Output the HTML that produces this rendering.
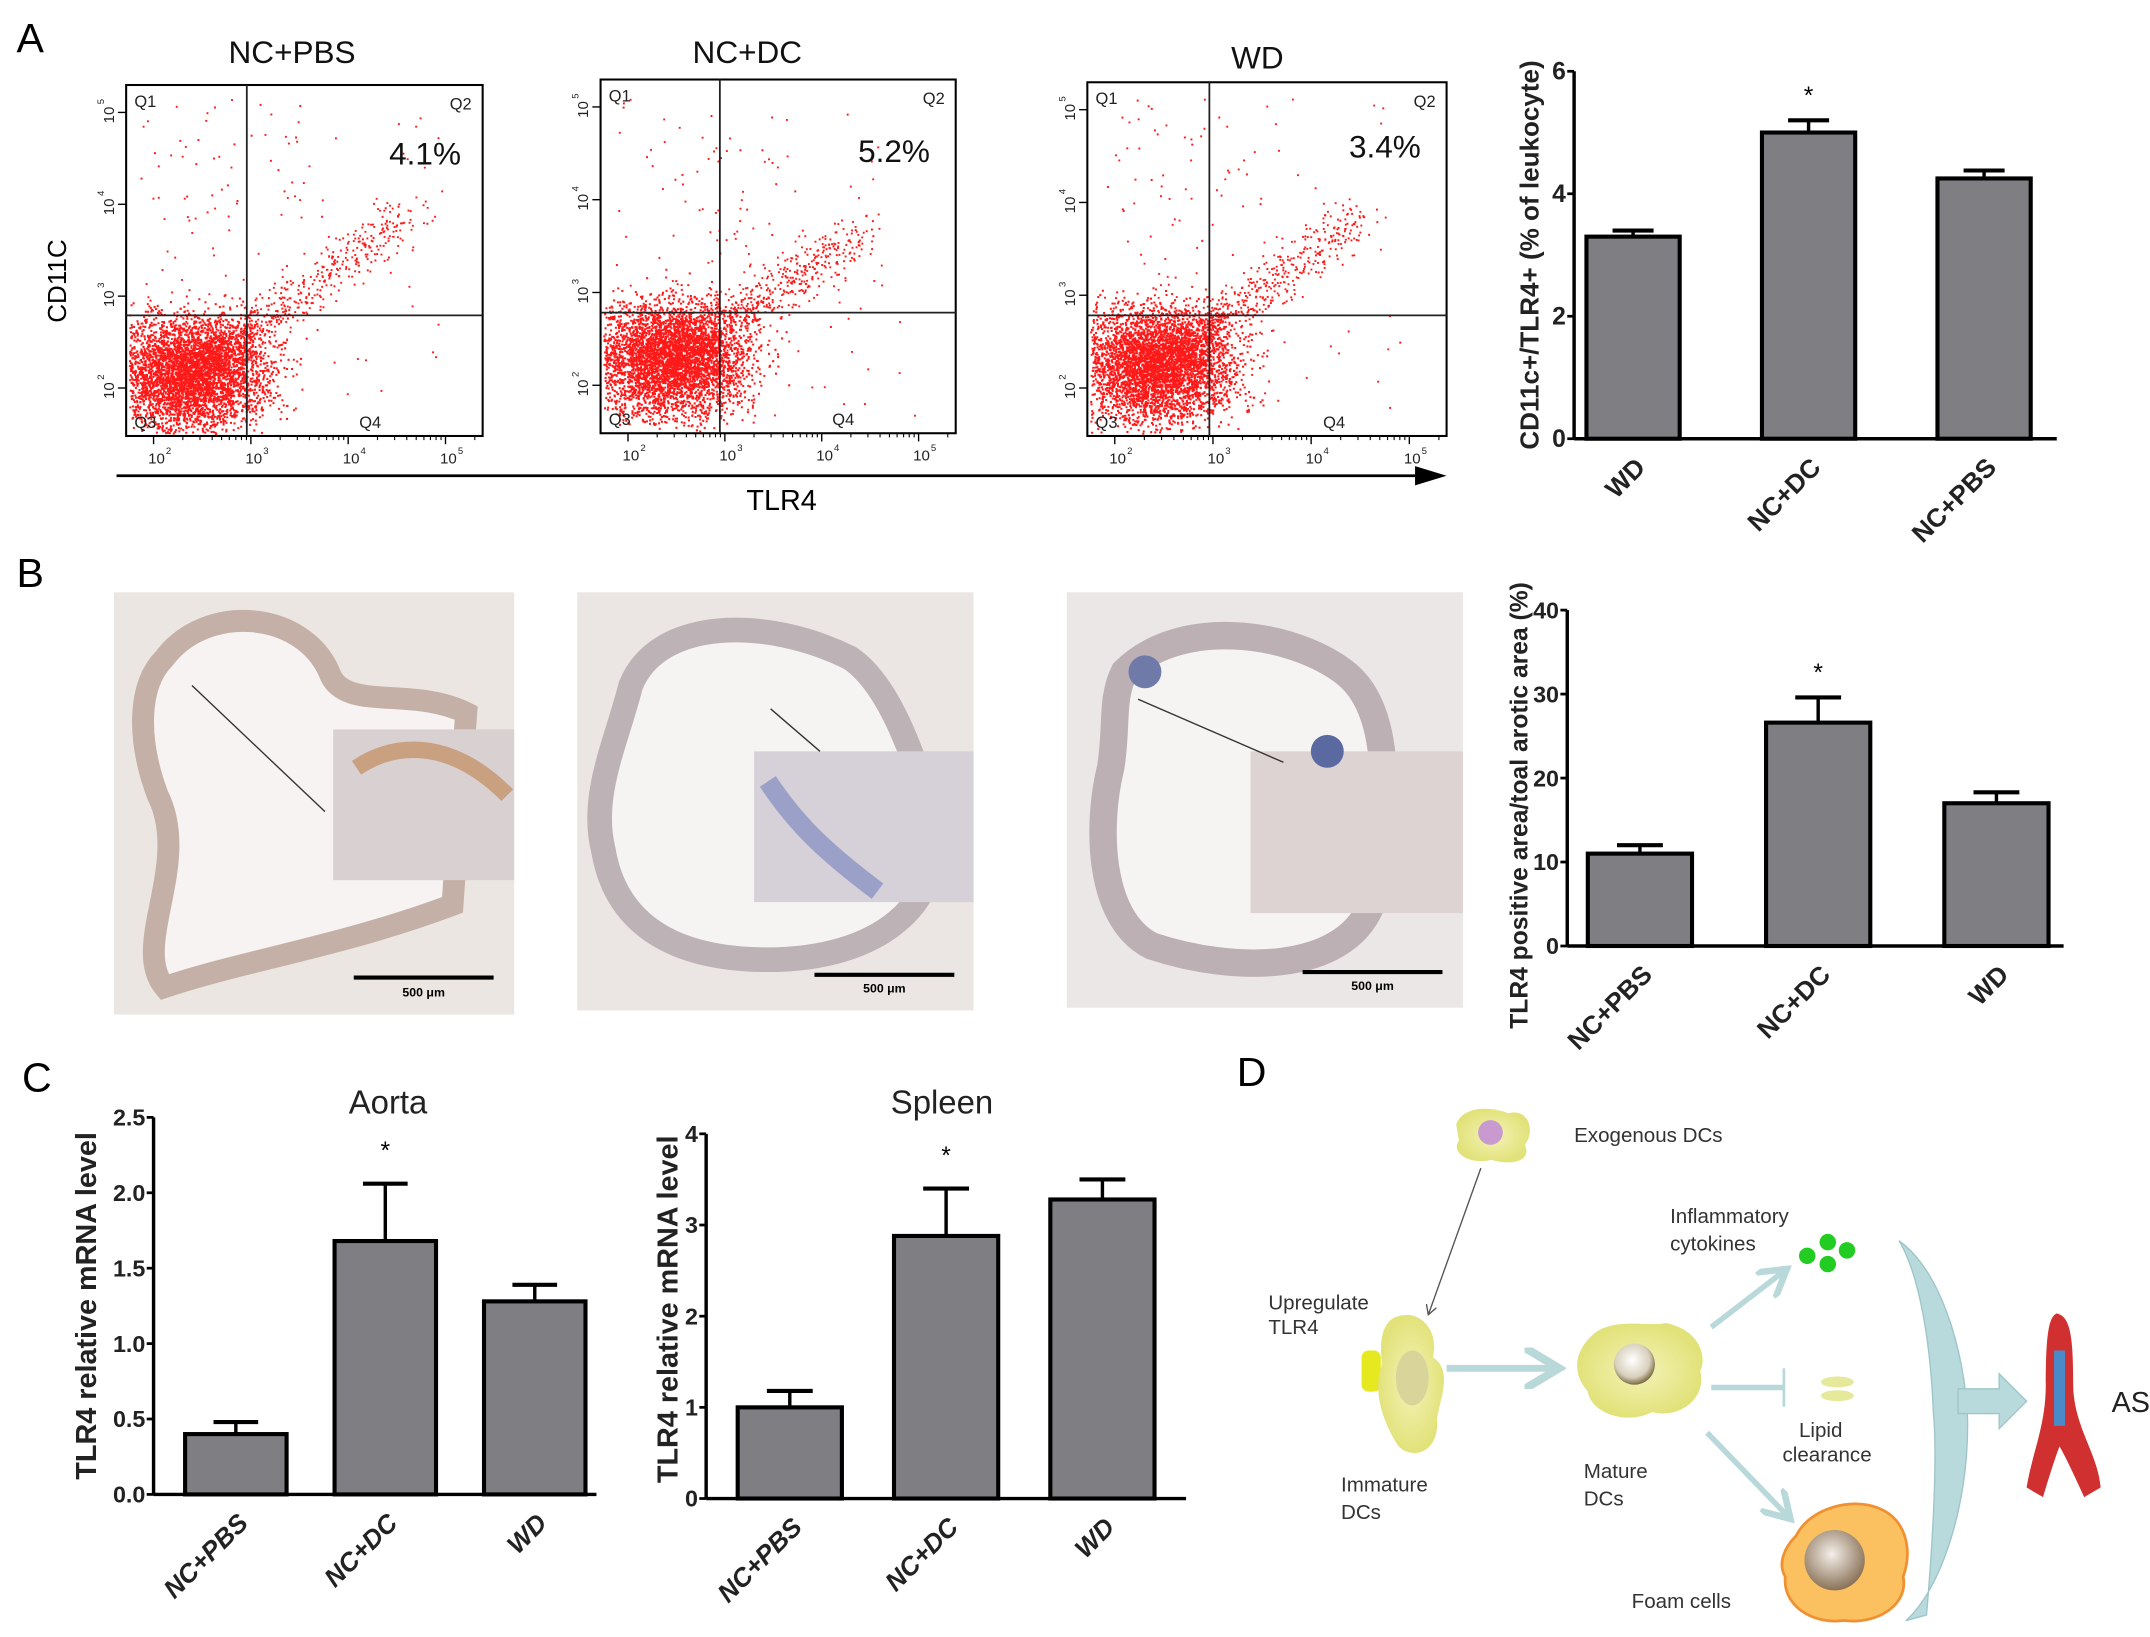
<!DOCTYPE html>
<html><head><meta charset="utf-8">
<style>
html,body{margin:0;padding:0;background:#fff;}
svg{display:block;font-family:"Liberation Sans",Arial,sans-serif;}
</style></head>
<body>
<svg id="fig" width="2150" height="1637" viewBox="0 0 1568 1194" preserveAspectRatio="none" xmlns="http://www.w3.org/2000/svg">
<defs>
<radialGradient id="cellY" cx="50%" cy="50%" r="50%"><stop offset="0" stop-color="#f4f3b8"/><stop offset="1" stop-color="#e2e27a"/></radialGradient>
<radialGradient id="nuc" cx="45%" cy="40%" r="60%"><stop offset="0" stop-color="#fff"/><stop offset="0.7" stop-color="#d8d0bc"/><stop offset="1" stop-color="#7a6a40"/></radialGradient>
<radialGradient id="nuc2" cx="45%" cy="40%" r="60%"><stop offset="0" stop-color="#f5f0ea"/><stop offset="1" stop-color="#8a7258"/></radialGradient>
<marker id="ah" markerWidth="8" markerHeight="8" refX="6" refY="4" orient="auto"><path d="M0,0 L7,4 L0,8" fill="none" stroke="#555" stroke-width="1"/></marker>
<marker id="ahb" markerWidth="6" markerHeight="6" refX="4" refY="3" orient="auto"><path d="M0,0 L5,3 L0,6" fill="none" stroke="#b8d8da" stroke-width="1.2"/></marker>
</defs>

<text x="12" y="38" font-size="30">A</text>
<text x="12" y="428" font-size="30">B</text>
<text x="16" y="796" font-size="30">C</text>
<text x="902" y="792" font-size="30">D</text>

<g id="flow"></g>
<text transform="translate(48,205) rotate(-90)" text-anchor="middle" font-size="19">CD11C</text>
<line x1="85" y1="347" x2="1040" y2="347" stroke="#000" stroke-width="2"/>
<path d="M1032,340 L1055,347 L1032,354 Z" fill="#000"/>
<text x="570" y="372" text-anchor="middle" font-size="21">TLR4</text>

<g>
<rect x="83" y="432" width="292" height="308" fill="#ece6e2"/>
<path d="M120,480 C150,440 220,445 240,490 C250,520 300,500 340,520 L330,660 C250,690 180,700 120,720 C95,690 140,630 115,580 C100,540 100,500 120,480 Z" fill="#f6f3f2" stroke="#c4b0a6" stroke-width="16"/>
<rect x="243" y="532" width="132" height="110" fill="#d9d0d2"/>
<path d="M260,560 C290,540 330,540 370,580" stroke="#c9a080" stroke-width="12" fill="none"/>
<line x1="140" y1="500" x2="237" y2="592" stroke="#333" stroke-width="1"/>
<line x1="258" y1="713" x2="360" y2="713" stroke="#000" stroke-width="3"/>
<text x="309" y="727" font-size="9" font-weight="bold" text-anchor="middle">500 μm</text>
</g>
<g>
<rect x="421" y="432" width="289" height="305" fill="#ebe6e4"/>
<path d="M460,500 C480,450 560,450 620,480 C650,500 670,560 680,600 C690,660 640,700 560,700 C500,700 450,680 440,620 C430,580 450,540 460,500 Z" fill="#f6f4f3" stroke="#bdb2b6" stroke-width="18"/>
<rect x="550" y="548" width="160" height="110" fill="#d6d0d8"/>
<path d="M560,570 C580,600 600,620 640,650" stroke="#9aa0c8" stroke-width="14" fill="none"/>
<line x1="562" y1="517" x2="598" y2="548" stroke="#333" stroke-width="1"/>
<line x1="594" y1="711" x2="696" y2="711" stroke="#000" stroke-width="3"/>
<text x="645" y="724" font-size="9" font-weight="bold" text-anchor="middle">500 μm</text>
</g>
<g>
<rect x="778" y="432" width="289" height="303" fill="#ebe7e6"/>
<path d="M820,490 C860,450 940,460 980,490 C1020,520 1010,600 1000,660 C980,710 900,710 840,690 C800,670 800,600 810,560 C815,530 810,510 820,490 Z" fill="#f6f4f3" stroke="#bcb0b4" stroke-width="20"/>
<rect x="912" y="548" width="155" height="118" fill="#ddd3d2"/>
<circle cx="835" cy="490" r="12" fill="#6f7aa8"/><circle cx="968" cy="548" r="12" fill="#5a6aa0"/>
<line x1="830" y1="510" x2="936" y2="556" stroke="#333" stroke-width="1"/>
<line x1="950" y1="709" x2="1052" y2="709" stroke="#000" stroke-width="3"/>
<text x="1001" y="722" font-size="9" font-weight="bold" text-anchor="middle">500 μm</text>
</g>

<g id="bars"></g>

<g font-size="15" fill="#333">
<g>
<path d="M1062,820 C1068,805 1090,808 1100,812 C1115,808 1120,825 1112,835 C1118,848 1100,850 1088,846 C1070,850 1058,840 1064,832 Z" fill="url(#cellY)"/>
<circle cx="1087" cy="826" r="9" fill="#c89ad0"/>
</g>
<text x="1148" y="833">Exogenous DCs</text>
<line x1="1080" y1="852" x2="1042" y2="958" stroke="#555" stroke-width="1" marker-end="url(#ah)"/>
<text x="925" y="955">Upregulate</text><text x="925" y="973">TLR4</text>
<g>
<rect x="993" y="985" width="14" height="30" rx="5" fill="#e6e820"/>
<path d="M1020,960 C1035,955 1050,970 1045,990 C1060,1000 1050,1020 1048,1035 C1050,1060 1030,1065 1020,1055 C1010,1040 1000,1015 1008,995 C1005,975 1010,962 1020,960 Z" fill="url(#cellY)"/>
<ellipse cx="1030" cy="1005" rx="12" ry="20" fill="#d8d49a"/>
</g>
<text x="978" y="1088">Immature</text><text x="978" y="1108">DCs</text>
<line x1="1055" y1="998" x2="1132" y2="998" stroke="#b8d8da" stroke-width="5" marker-end="url(#ahb)"/>
<g>
<path d="M1160,975 C1175,960 1200,968 1215,965 C1240,970 1245,990 1240,1000 C1245,1020 1225,1035 1205,1030 C1185,1040 1160,1030 1158,1015 C1145,1000 1150,985 1160,975 Z" fill="url(#cellY)"/>
<circle cx="1192" cy="995" r="15" fill="url(#nuc)"/>
</g>
<text x="1155" y="1078">Mature</text><text x="1155" y="1098">DCs</text>
<line x1="1248" y1="968" x2="1300" y2="928" stroke="#b8d8da" stroke-width="4" marker-end="url(#ahb)"/>
<line x1="1248" y1="1012" x2="1300" y2="1012" stroke="#b8d8da" stroke-width="4"/>
<line x1="1301" y1="998" x2="1301" y2="1026" stroke="#b8d8da" stroke-width="2"/>
<line x1="1245" y1="1045" x2="1303" y2="1105" stroke="#b8d8da" stroke-width="4" marker-end="url(#ahb)"/>
<text x="1218" y="892">Inflammatory</text><text x="1218" y="912">cytokines</text>
<g fill="#22cc22">
<circle cx="1318" cy="916" r="6"/><circle cx="1333" cy="906" r="6"/><circle cx="1347" cy="912" r="6"/><circle cx="1333" cy="922" r="6"/>
</g>
<g fill="#e6e89a"><ellipse cx="1340" cy="1008" rx="12" ry="4"/><ellipse cx="1340" cy="1018" rx="12" ry="4"/></g>
<text x="1312" y="1048">Lipid</text><text x="1300" y="1066">clearance</text>
<g>
<path d="M1310,1120 C1320,1100 1350,1092 1370,1100 C1390,1108 1395,1130 1388,1150 C1392,1170 1370,1185 1345,1182 C1320,1185 1300,1170 1302,1150 C1296,1140 1302,1128 1310,1120 Z" fill="#fbc060" stroke="#f09030" stroke-width="2"/>
<circle cx="1338" cy="1138" r="22" fill="url(#nuc2)"/>
</g>
<text x="1190" y="1173">Foam cells</text>
<path d="M1385,905 C1420,930 1435,1000 1435,1040 C1435,1100 1415,1160 1390,1182 L1405,1178 C1410,1120 1413,1060 1410,1030 C1408,980 1400,930 1385,905 Z" fill="#b8dadc" stroke="#9ec6c8"/>
<path d="M1428,1013 L1458,1013 L1458,1002 L1478,1022 L1458,1042 L1458,1031 L1428,1031 Z" fill="#b8dadc" stroke="#9ec6c8"/>
<g>
<path d="M1500,958 C1510,960 1512,975 1512,1010 C1512,1040 1530,1060 1532,1085 L1520,1092 C1510,1070 1505,1060 1502,1055 C1500,1060 1495,1075 1490,1092 L1478,1085 C1482,1060 1492,1040 1492,1010 C1492,975 1494,960 1500,958 Z" fill="#d03030"/>
<path d="M1502,985 L1502,1040" stroke="#4a8ac8" stroke-width="8"/>
</g>
<text x="1540" y="1030" font-size="21" fill="#222">AS</text>
</g>
</svg>

<script>
var NS="http://www.w3.org/2000/svg";
var fig=document.getElementById('fig');
function el(tag,attrs,parent){var e=document.createElementNS(NS,tag);for(var k in attrs)e.setAttribute(k,attrs[k]);(parent||fig).appendChild(e);return e;}

var catsA=["WD","NC+DC","NC+PBS"];
var valsA=[3.3,5.0,4.25];
var errA=[0.1,0.2,0.13];
var ticksA=[0,2,4,6];
var starA=[false,true,false];

var catsB=["NC+PBS","NC+DC","WD"];
var valsB=[11,26.6,17];
var errB=[1,3,1.3];
var ticksB=[0,10,20,30,40];
var starB=[false,true,false];

var catsAorta=["NC+PBS","NC+DC","WD"];
var valsAorta=[0.4,1.68,1.28];
var errAorta=[0.08,0.38,0.11];
var ticksAorta=["0.0","0.5","1.0","1.5","2.0","2.5"];
var starAorta=[false,true,false];

var catsSpleen=["NC+PBS","NC+DC","WD"];
var valsSpleen=[1.0,2.88,3.28];
var errSpleen=[0.18,0.52,0.22];
var ticksSpleen=[0,1,2,3,4];
var starSpleen=[false,true,false];

var flowPct=["4.1%","5.2%","3.4%"];
var flowTitles=["NC+PBS","NC+DC","WD"];

function barChart(name,cfg,cats,vals,errs,ticks,stars){
  var g=el('g',{},document.getElementById('bars'));
  
  
  var tmax=parseFloat(ticks[ticks.length-1]);
  function y(v){return cfg.y0-(v/tmax)*(cfg.y0-cfg.y1);}
  function xc(i){return cfg.c0+cfg.step*i;}
  for(var i=0;i<cats.length;i++){
    var bw=cfg.bw, x=xc(i)-bw/2;
    var e=el('line',{x1:xc(i),x2:xc(i),y1:y(vals[i]),y2:y(vals[i]+errs[i]),stroke:'#000','stroke-width':2.5},g);
    
    
    el('line',{x1:xc(i)-bw*0.22,x2:xc(i)+bw*0.22,y1:y(vals[i]+errs[i]),y2:y(vals[i]+errs[i]),stroke:'#000','stroke-width':3},g);
    var r=el('rect',{x:x,y:y(vals[i]),width:bw,height:cfg.y0-y(vals[i]),fill:'#7f7f83',stroke:'#000','stroke-width':3},g);
    
    
    if(stars[i]){var s=el('text',{x:xc(i),y:y(vals[i]+errs[i])-cfg.starGap,'text-anchor':'middle','font-size':18},g);s.textContent='*';
      
      }
    var t=el('text',{transform:'translate('+(xc(i)+10)+','+(cfg.y0+22)+') rotate(-45)','text-anchor':'end','font-size':cfg.fs,'font-weight':'bold','font-style':cfg.italic?'italic':'normal',fill:'#222'},g);
    t.textContent=cats[i];
    
    
  }
  el('line',{x1:cfg.ax,x2:cfg.ax,y1:cfg.y1,y2:cfg.y0,stroke:'#000','stroke-width':2.5},g);
  el('line',{x1:cfg.ax,x2:cfg.x1,y1:cfg.y0,y2:cfg.y0,stroke:'#000','stroke-width':2.5},g);
  for(var j=0;j<ticks.length;j++){
    var yy=y(parseFloat(ticks[j]));
    el('line',{x1:cfg.ax-5,x2:cfg.ax,y1:yy,y2:yy,stroke:'#000','stroke-width':2},g);
    var tl=el('text',{x:cfg.ax-6,y:yy+6,'text-anchor':'end','font-size':cfg.tfs,'font-weight':'bold',fill:'#222'},g);
    tl.textContent=ticks[j];
    
    
  }
  var yl=el('text',{transform:'translate('+cfg.ylx+','+((cfg.y0+cfg.y1)/2+cfg.ylShift)+') rotate(-90)','text-anchor':'middle','font-size':cfg.ylfs,'font-weight':'bold',fill:'#222'},g);
  yl.textContent=cfg.ylabel;
  
  
  if(cfg.title){var tt=el('text',{x:cfg.tx,y:cfg.ty,'text-anchor':'middle','font-size':24,fill:'#222'},g);tt.textContent=cfg.title;
    
    }
}
barChart('chart-cd11c-tlr4',{ax:1148,x1:1500,y0:320,y1:52,c0:1191,step:128,bw:68,fs:19,tfs:18,ylx:1122,ylfs:19,ylShift:0,ylabel:'CD11c+/TLR4+ (% of leukocyte)',starGap:12},catsA,valsA,errA,ticksA,starA);
barChart('chart-tlr4-area',{ax:1143,x1:1505,y0:690,y1:445,c0:1196,step:130,bw:76,fs:19,tfs:17,ylx:1114,ylfs:18,ylShift:20,ylabel:'TLR4 positive area/toal arotic area (%)',starGap:12},catsB,valsB,errB,ticksB,starB);
barChart('chart-aorta',{ax:112,x1:435,y0:1090,y1:815,c0:172,step:109,bw:74,fs:19,tfs:17,ylx:70,ylfs:21,ylShift:0,ylabel:'TLR4 relative mRNA level',starGap:18,italic:true,title:'Aorta',tx:283,ty:812},catsAorta,valsAorta,errAorta,ticksAorta,starAorta);
barChart('chart-spleen',{ax:515,x1:865,y0:1093,y1:827,c0:576,step:114,bw:76,fs:19,tfs:17,ylx:494,ylfs:21,ylShift:-5,ylabel:'TLR4 relative mRNA level',starGap:18,italic:true,title:'Spleen',tx:687,ty:812},catsSpleen,valsSpleen,errSpleen,ticksSpleen,starSpleen);

var plots=[{x:92,y:62,w:260,h:256,vx:180,hy:230,cx:140,cy:272,tx:300,ty:155,t:213,tt:46,px:310,py:120},
           {x:438,y:58,w:259,h:258,vx:525,hy:228,cx:490,cy:262,tx:630,ty:170,t:545,tt:46,px:652,py:118},
           {x:793,y:60,w:262,h:258,vx:882,hy:230,cx:845,cy:266,tx:990,ty:160,t:917,tt:50,px:1010,py:115}];
var seed=12345;function rnd(){seed=(seed*1103515245+12345)%2147483648;return seed/2147483648;}
function gauss(){return (rnd()+rnd()+rnd()+rnd()-2)/1.0;}
var fg=document.getElementById('flow');
plots.forEach(function(p,k){
  var g=el('g',{},fg);
  
  
  el('rect',{x:p.x,y:p.y,width:p.w,height:p.h,fill:'#fff',stroke:'#000','stroke-width':1.5},g);
  var path='';
  for(var i=0;i<4200;i++){
    var dx=gauss()*48, dy=gauss()*36;
    var x=p.cx+dx, y=p.cy+dy;
    if(x<p.x+2||x>p.x+p.w-2||y<p.y+2||y>p.y+p.h-2)continue;
    path+='M'+x.toFixed(1)+','+y.toFixed(1)+'h1.5v1.5h-1.5z';
  }
  for(var i=0;i<700;i++){
    var t=Math.pow(rnd(),1.6), x=p.cx+(p.tx-p.cx)*t+gauss()*16, y=p.cy+(p.ty-p.cy)*t+gauss()*16;
    path+='M'+x.toFixed(1)+','+y.toFixed(1)+'h1.4v1.4h-1.4z';
  }
  for(var i=0;i<150;i++){
    var x=p.x+10+rnd()*(p.w-40), y=p.y+10+rnd()*(p.h-20);
    if(rnd()<0.5)x=p.x+10+rnd()*120;
    path+='M'+x.toFixed(1)+','+y.toFixed(1)+'h1.4v1.4h-1.4z';
  }
  el('path',{d:path,fill:'#ff1a1a'},g);
  el('line',{x1:p.vx,x2:p.vx,y1:p.y,y2:p.y+p.h,stroke:'#222','stroke-width':1.3},g);
  el('line',{x1:p.x,x2:p.x+p.w,y1:p.hy,y2:p.hy,stroke:'#222','stroke-width':1.3},g);
  [['Q1',p.x+6,p.y+16,'start'],['Q2',p.x+p.w-8,p.y+18,'end'],['Q3',p.x+6,p.y+p.h-6,'start'],['Q4',p.x+p.w-90,p.y+p.h-6,'start']].forEach(function(q){
    var t=el('text',{x:q[1],y:q[2],'font-size':12,'text-anchor':q[3],fill:'#222'},g);t.textContent=q[0];
  });
  var pc=el('text',{x:p.px,y:p.py,'font-size':23,'text-anchor':'middle',fill:'#111'},g);pc.textContent=flowPct[k];
  
  
  var ti=el('text',{x:p.t,y:p.tt,'font-size':23,'text-anchor':'middle',fill:'#111'},g);ti.textContent=flowTitles[k];
  
  
  var ex=['2','3','4','5'];
  for(var d=0;d<4;d++){
    var xx=p.x+20+d*(p.w-40)/3.1;
    el('line',{x1:xx,x2:xx,y1:p.y+p.h,y2:p.y+p.h+6,stroke:'#000','stroke-width':1},g);
    for(var m=1;m<9;m++){var xm=xx+Math.log10(m+1)*(p.w-40)/3.1; if(xm<p.x+p.w) el('line',{x1:xm,x2:xm,y1:p.y+p.h,y2:p.y+p.h+3,stroke:'#000','stroke-width':0.8},g);}
    var lt=el('text',{x:xx-4,y:p.y+p.h+20,'font-size':11,fill:'#222'},g);lt.textContent='10';
    var ls=el('text',{x:xx+9,y:p.y+p.h+13,'font-size':7,fill:'#222'},g);ls.textContent=ex[d];
    var yy=p.y+p.h-35-d*(p.h-55)/3;
    el('line',{x1:p.x-6,x2:p.x,y1:yy,y2:yy,stroke:'#000','stroke-width':1},g);
    var yt=el('text',{transform:'translate('+(p.x-9)+','+(yy+8)+') rotate(-90)','font-size':11,fill:'#222'},g);yt.textContent='10';
    var ys=el('text',{transform:'translate('+(p.x-16)+','+(yy-6)+') rotate(-90)','font-size':7,fill:'#222'},g);ys.textContent=ex[d];
  }
});
</script>
</body></html>
